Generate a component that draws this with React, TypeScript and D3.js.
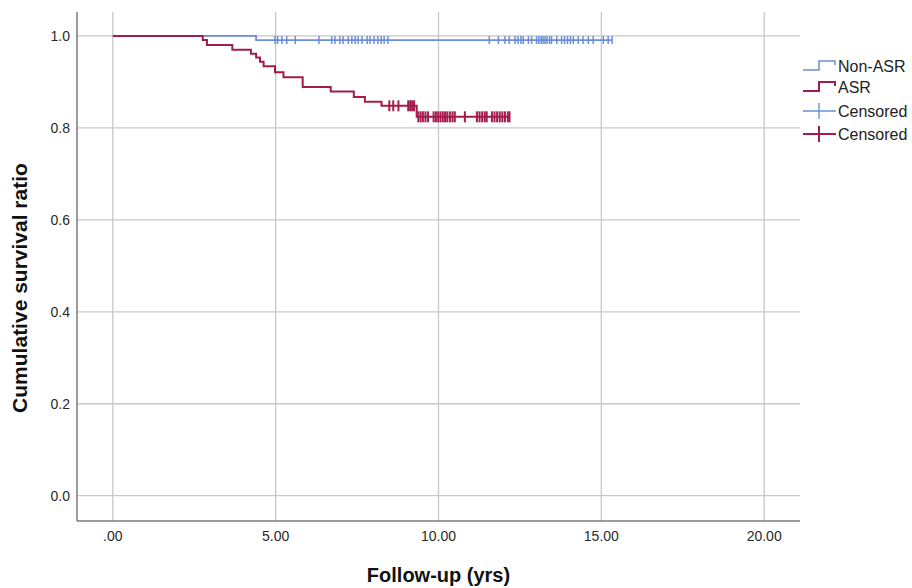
import React, { useEffect, useRef } from 'react';
import * as d3 from 'd3';

// Kaplan-Meier steps (time in years, survival after the drop)
const nonAsrEventTimes = [4.4];
const nonAsrSurvival = [0.991];
const nonAsrCensorTimes = [
  4.98, 5.06, 5.19, 5.34, 5.6, 6.33, 6.72, 6.82, 6.97, 7.07, 7.23, 7.34, 7.44, 7.53, 7.65,
  7.81, 7.9, 8.02, 8.14, 8.24, 8.33, 8.45,
  11.56, 11.84, 12.04, 12.17, 12.35, 12.44, 12.53, 12.6, 12.76, 12.86, 13.01, 13.08, 13.15,
  13.21, 13.27, 13.33, 13.41, 13.47, 13.63, 13.78, 13.87, 13.96, 14.05, 14.14, 14.29, 14.44,
  14.6, 14.75, 15.06, 15.21, 15.33,
];

const asrEventTimes = [2.76, 2.89, 3.67, 4.24, 4.4, 4.52, 4.63, 4.98, 5.24, 5.83, 6.69, 7.4, 7.74, 8.25, 9.33];
const asrSurvival = [0.991, 0.98, 0.97, 0.961, 0.953, 0.944, 0.934, 0.921, 0.91, 0.889, 0.879, 0.867, 0.857, 0.848, 0.824];
const asrCensorTimes = [
  8.49, 8.61, 8.77, 9.07, 9.13, 9.19, 9.25,
  9.38, 9.45, 9.52, 9.6, 9.68, 9.85, 9.92, 9.99, 10.06, 10.13, 10.2, 10.27, 10.35, 10.43, 10.5,
  10.81, 11.18, 11.26, 11.34, 11.42, 11.48, 11.64, 11.72, 11.8, 11.88, 11.96, 12.04, 12.13, 12.18,
];

const xTicks = [0, 5, 10, 15, 20];
const yTicks = [0, 0.2, 0.4, 0.6, 0.8, 1.0];
const legendLabels = ['Non-ASR', 'ASR', 'Censored', 'Censored'];

const BLUE = '#6b8ed8';
const RED = '#a31c4c';
const FONT = 'Liberation Sans, Arial, sans-serif';

function survivalAt(t: number, times: number[], surv: number[]) {
  let s = 1;
  times.forEach((et, i) => {
    if (et <= t) s = surv[i];
  });
  return s;
}

function stepPoints(times: number[], surv: number[], end: number): [number, number][] {
  const pts: [number, number][] = [[0, 1]];
  times.forEach((t, i) => pts.push([t, surv[i]]));
  pts.push([end, surv[surv.length - 1]]);
  return pts;
}

export default function App() {
  const ref = useRef<SVGSVGElement>(null);

  useEffect(() => {
    const svg = d3.select(ref.current);
    svg.selectAll('*').remove();

    const left = 77, right = 800, top = 12, bottom = 521;
    const x = d3.scaleLinear().domain([-1.1, 21.1]).range([left, right]);
    const y = d3.scaleLinear().domain([-0.055, 1.052]).range([bottom, top]);

    // grid
    svg.append('g').selectAll('line').data(xTicks).enter().append('line')
      .attr('x1', d => x(d)).attr('x2', d => x(d))
      .attr('y1', top).attr('y2', bottom)
      .attr('stroke', '#c8c8c8').attr('stroke-width', 1.3);
    svg.append('g').selectAll('line').data(yTicks).enter().append('line')
      .attr('x1', left).attr('x2', right)
      .attr('y1', d => y(d)).attr('y2', d => y(d))
      .attr('stroke', '#c8c8c8').attr('stroke-width', 1.3);

    // axis lines
    svg.append('line').attr('x1', left).attr('x2', left).attr('y1', top).attr('y2', bottom)
      .attr('stroke', '#7a7a7a').attr('stroke-width', 1.5);
    svg.append('line').attr('x1', left).attr('x2', right).attr('y1', bottom).attr('y2', bottom)
      .attr('stroke', '#7a7a7a').attr('stroke-width', 1.5);

    const fmtX = (d: number) => d3.format('.2f')(d).replace(/^0\./, '.');
    svg.append('g').selectAll('text').data(xTicks).enter().append('text')
      .attr('x', d => x(d)).attr('y', 541)
      .attr('text-anchor', 'middle')
      .attr('font-family', FONT).attr('font-size', 14)
      .attr('fill', '#2a2a2a').text(fmtX);
    svg.append('g').selectAll('text').data(yTicks).enter().append('text')
      .attr('x', 70).attr('y', d => y(d)).attr('dy', '0.35em')
      .attr('text-anchor', 'end')
      .attr('font-family', FONT).attr('font-size', 14)
      .attr('fill', '#2a2a2a').text(d => d3.format('.1f')(d));

    // titles
    svg.append('text').attr('x', (left + right) / 2).attr('y', 582)
      .attr('text-anchor', 'middle').attr('font-weight', 'bold')
      .attr('font-family', FONT).attr('font-size', 20)
      .attr('fill', '#111').text('Follow-up (yrs)');
    svg.append('text').attr('transform', 'translate(27,288) rotate(-90)')
      .attr('text-anchor', 'middle').attr('font-weight', 'bold')
      .attr('font-family', FONT).attr('font-size', 21)
      .attr('fill', '#111').text('Cumulative survival ratio');

    const line = d3.line<[number, number]>().x(d => x(d[0])).y(d => y(d[1])).curve(d3.curveStepAfter);

    const groups = [
      { times: nonAsrEventTimes, surv: nonAsrSurvival, cens: nonAsrCensorTimes, color: BLUE, w: 1.8, h: 4, tw: 1.5 },
      { times: asrEventTimes, surv: asrSurvival, cens: asrCensorTimes, color: RED, w: 2, h: 5.5, tw: 2 },
    ];
    groups.forEach(g => {
      const end = d3.max(g.cens) as number;
      svg.append('path').datum(stepPoints(g.times, g.surv, end))
        .attr('d', line).attr('fill', 'none')
        .attr('stroke', g.color).attr('stroke-width', g.w);
      svg.append('g').selectAll('line').data(g.cens).enter().append('line')
        .attr('x1', d => x(d)).attr('x2', d => x(d))
        .attr('y1', d => y(survivalAt(d, g.times, g.surv)) - g.h)
        .attr('y2', d => y(survivalAt(d, g.times, g.surv)) + g.h)
        .attr('stroke', g.color).attr('stroke-width', g.tw);
    });

    // legend
    const legendColors = [BLUE, RED, BLUE, RED];
    const rowY = [66, 87, 111, 134];
    const lg = svg.append('g');
    legendLabels.forEach((label, i) => {
      const ry = rowY[i];
      const c = legendColors[i];
      if (i < 2) {
        lg.append('path')
          .attr('d', `M803,${ry + 4}H819V${ry - 5}H835V${ry - 1}`)
          .attr('fill', 'none').attr('stroke', c).attr('stroke-width', i === 1 ? 2 : 1.5);
      } else {
        lg.append('line').attr('x1', 803).attr('x2', 836).attr('y1', ry).attr('y2', ry)
          .attr('stroke', c).attr('stroke-width', i === 3 ? 2 : 1.4);
        lg.append('line').attr('x1', 819).attr('x2', 819).attr('y1', ry - 8).attr('y2', ry + 8)
          .attr('stroke', c).attr('stroke-width', i === 3 ? 2 : 1.4);
      }
      lg.append('text').attr('x', 838).attr('y', ry).attr('dy', '0.35em')
        .attr('font-family', FONT).attr('font-size', 16)
        .attr('fill', '#222').text(label);
    });
  }, []);

  return (
    <svg ref={ref} width={912} height={588}
      style={{ position: 'absolute', left: 0, top: 0, background: '#fff' }} />
  );
}
